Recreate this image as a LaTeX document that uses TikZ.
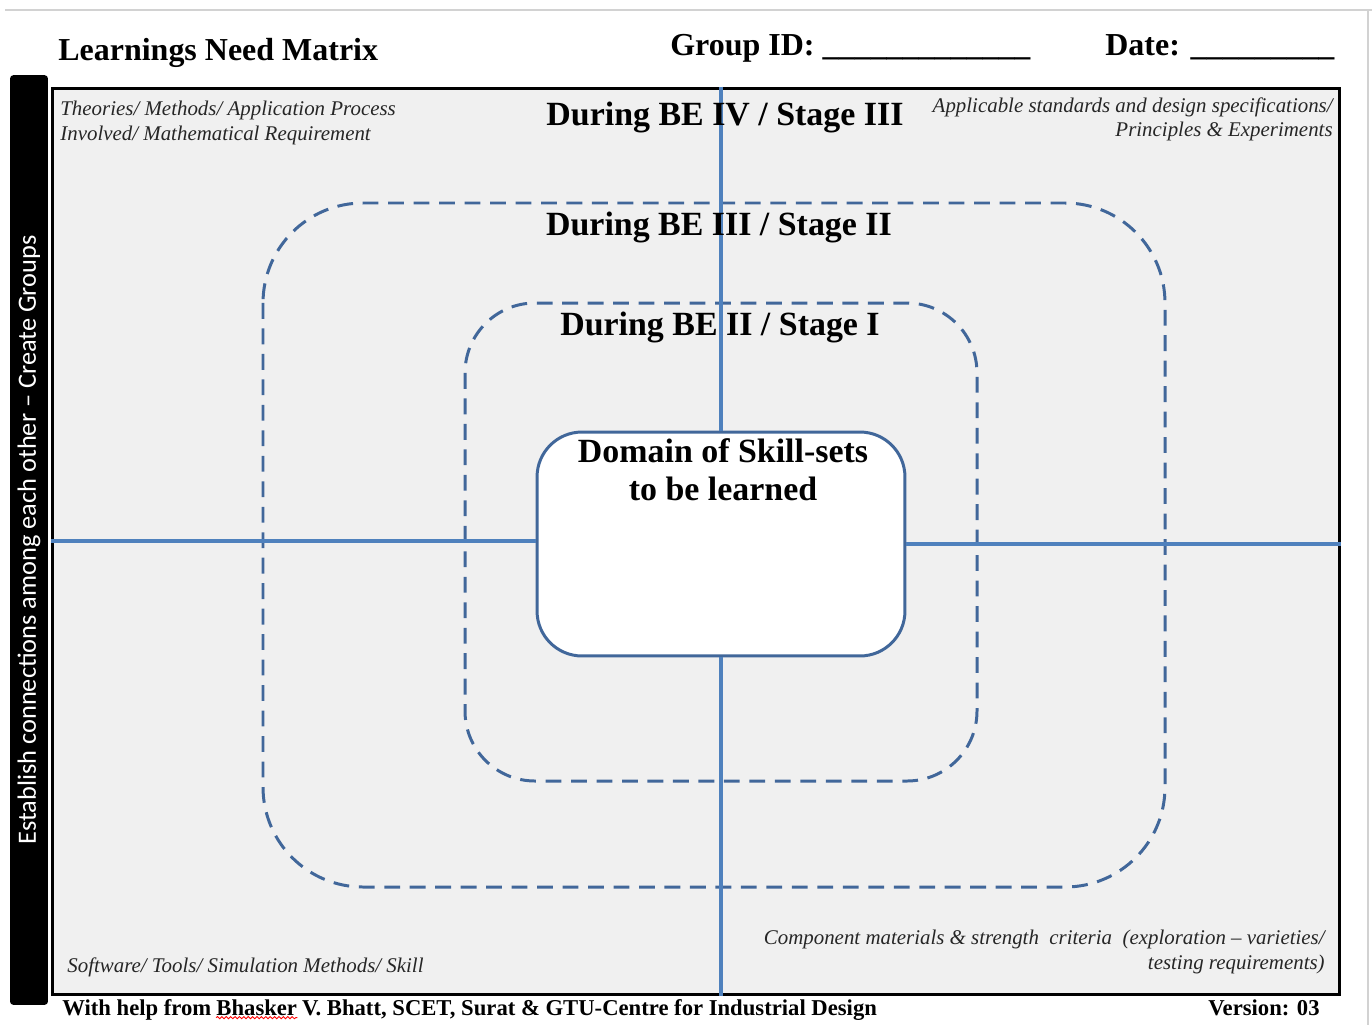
\documentclass[tikz,border=0pt]{standalone}
\usepackage{fontspec}
\setmainfont{Liberation Serif}
\newfontfamily\sidefont{Carlito}
\usetikzlibrary{positioning, decorations.pathmorphing}
\definecolor{axisblue}{HTML}{4F81BD}
\definecolor{ringblue}{HTML}{41679A}
\definecolor{paper}{HTML}{F0F0F0}

\begin{document}
\begin{tikzpicture}[x=0.02cm, y=-0.02cm]
\tikzstyle{heading}=[font=\fontsize{18.2}{21}\selectfont\bfseries, inner sep=0]
\tikzstyle{stage}=[font=\fontsize{19.3}{22}\selectfont\bfseries, inner sep=0]
\tikzstyle{note}=[font=\fontsize{11.9}{14}\selectfont\itshape, text=black!85, inner sep=0]
\tikzstyle{foot}=[font=\fontsize{12.9}{14}\selectfont\bfseries, inner sep=0]
\tikzstyle{ring}=[draw=ringblue, line width=1.7pt, dash pattern=on 9pt off 5.5pt]
\tikzstyle{axis}=[draw=axisblue, line width=1.8pt]

\useasboundingbox (0,0) rectangle (1372,1025);
\draw [gray!35, line width=1.2pt] (5,10) -- (1372,10);
\draw [gray!35, line width=1.2pt] (1368,10) -- (1368,1025);

\node (title) [heading, anchor=base west] at (58,60) {Learnings Need Matrix};
\node (group) [heading, anchor=base west] at (670,55) {Group ID: \_\_\_\_\_\_\_\_\_\_\_\_\_};
\node (date) [heading, anchor=base west] at (1105,55) {Date: \_\_\_\_\_\_\_\_\_};

\node (bar) [fill=black, rounded corners=2pt, minimum width=0.76cm, minimum height=18.6cm, inner sep=0] at (29,540) {};
\node (side) [rotate=90, text=white, font=\sidefont\fontsize{15}{18}\selectfont, inner sep=0] at (bar.center) {Establish connections among each other – Create Groups};

\node (frame) [draw=black, line width=1.7pt, fill=paper, minimum width=25.76cm, minimum height=18.14cm, inner sep=0] at (696,541.5) {};

\draw [ring, rounded corners=2cm] (263,203) rectangle (1165,887);
\draw [ring, rounded corners=1.4cm] (465,303) rectangle (977,781);

\node (core) [draw=ringblue, line width=1.7pt, fill=white, rounded corners=0.9cm, minimum width=7.36cm, minimum height=4.48cm, inner sep=0] at (721,544) {};
\coordinate (lefthook) at ([yshift=0.06cm]core.west);
\draw [axis] (frame.north -| core.north) -- (core.north);
\draw [axis] (core.south) -- (frame.south -| core.south);
\draw [axis] (lefthook) -- (frame.west |- lefthook);
\draw [axis] (core.east) -- (frame.east |- core.east);

\node (coretext) [stage, align=center, anchor=north] at (723,438) {Domain of Skill-sets\\to be learned};

\node (stageIII) [stage, anchor=base] at (725,125) {During BE IV / Stage III};
\node (stageII) [stage, anchor=base] at (719,235) {During BE III / Stage II};
\node (stageI) [stage, anchor=base] at (720,335) {During BE II / Stage I};

\node (theory) [note, align=left, anchor=north west] at (60,101) {Theories/ Methods/ Application Process\\Involved/ Mathematical Requirement};
\node (standard) [note, align=right, anchor=north east] at (1333,97) {Applicable standards and design specifications/\\Principles \& Experiments};
\node (software) [note, anchor=base west] at (67,972) {Software/ Tools/ Simulation Methods/ Skill};
\node (material) [note, align=right, anchor=north east] at (1325,930) {Component materials \& strength\ \ criteria\ \ (exploration – varieties/\\testing requirements)};

\node (help) [foot, anchor=base west] at (62,1015) {With help from};
\node (bhasker) [foot, base right=0.25em of help] {Bhasker};
\node (helprest) [foot, base right=0.25em of bhasker] {V. Bhatt, SCET, Surat \& GTU-Centre for Industrial Design};
\draw [red, line width=0.5pt, decorate, decoration={snake, amplitude=0.6pt, segment length=2.5pt}] ([yshift=-1.5pt]bhasker.base west) -- ([yshift=-1.5pt]bhasker.base east);
\node (version) [foot, anchor=base east] at (1320,1015) {Version: 03};

\end{tikzpicture}
\end{document}
